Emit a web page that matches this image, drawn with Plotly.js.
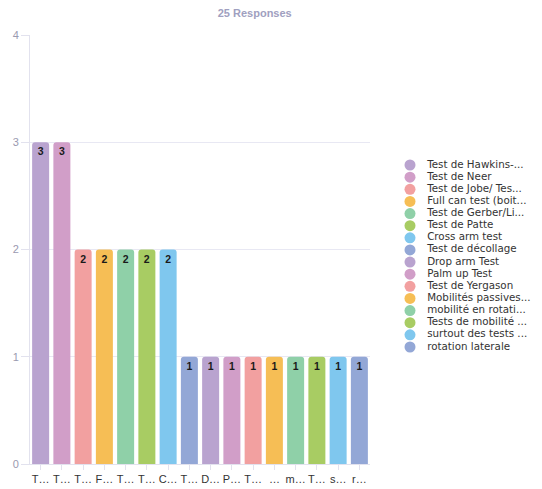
<!DOCTYPE html>
<html><head><meta charset="utf-8">
<script src="https://cdn.plot.ly/plotly-3.0.1.min.js"></script>
<style>html,body{margin:0;padding:0;background:#fff;}#chart{width:542px;height:489px;}</style>
</head><body><div id="chart"></div>
<script>
const categories = ["Test de Hawkins-...","Test de Neer","Test de Jobe/ Tes...","Full can test (boit...","Test de Gerber/Li...","Test de Patte","Cross arm test","Test de décollage","Drop arm Test","Palm up Test","Test de Yergason","Mobilités passives...","mobilité en rotati...","Tests de mobilité ...","surtout des tests ...","rotation laterale"];
const tickLabels = ["T…","T…","T…","F…","T…","T…","C…","T…","D…","P…","T…","…","m…","T…","s…","r…"];
const counts = [3,3,2,2,2,2,2,1,1,1,1,1,1,1,1,1];
const colors = ["#b9a3cf","#d19ec8","#f2a0a0","#f6be55","#8fd0a8","#a8cc63","#7fc7ee","#93a7d6","#b9a3cf","#d19ec8","#f2a0a0","#f6be55","#8fd0a8","#a8cc63","#7fc7ee","#93a7d6"];
const responsesTitle = "25 Responses";

const idx = categories.map((_, i) => i);
const FONT = 'Liberation Sans, Arial, sans-serif';
const LEGFONT = 'DejaVu Sans, Liberation Sans, sans-serif';
const traces = [
  {
    type: 'bar', x: idx, y: counts, text: counts.map(String),
    textposition: 'inside', insidetextanchor: 'end', textangle: 0,
    textfont: {family: FONT, size: 10.5, color: '#1a1a1a', weight: 'bold'},
    marker: {color: colors, cornerradius: 3}, showlegend: false, hoverinfo: 'none'
  },
  {
    type: 'scatter', mode: 'markers', xaxis: 'x2', yaxis: 'y2',
    x: idx.map(() => 0), y: idx, marker: {symbol: 'circle', size: 11, color: colors},
    showlegend: false, hoverinfo: 'none', cliponaxis: false
  },
  {
    type: 'scatter', mode: 'text', xaxis: 'x2', yaxis: 'y2',
    x: idx.map(() => 0.13), y: idx, text: categories, textposition: 'middle right',
    textfont: {family: LEGFONT, size: 10.3, color: '#333'},
    showlegend: false, hoverinfo: 'none', cliponaxis: false
  }
];

const layout = {
  width: 542, height: 489,
  margin: {l: 30, r: 0, t: 35, b: 25},
  paper_bgcolor: '#fff', plot_bgcolor: 'rgba(0,0,0,0)',
  font: {family: FONT, color: '#333'},
  title: {text: responsesTitle, x: 0.47, xanchor: 'center', y: 0.973, yanchor: 'middle',
    font: {size: 11, color: '#a0a0c0', weight: 'bold'}},
  bargap: 0.2,
  showlegend: false,
  xaxis: {domain: [0, 340/512], range: [-0.5, 15.5], tickmode: 'array', tickvals: idx, ticktext: tickLabels,
    tickangle: 0, showgrid: false, zeroline: false, showline: true, linecolor: '#e2e2ee', linewidth: 1,
    ticks: 'outside', ticklen: 5, tickcolor: '#e2e2ee', tickfont: {size: 11, color: '#333'}, fixedrange: true},
  yaxis: {range: [0, 4], tickvals: [0,1,2,3,4], showgrid: true, gridcolor: '#e8e8f3',
    zeroline: false, showline: true, linecolor: '#e2e2ee', ticks: 'outside', ticklen: 8, tickcolor: '#e2e2ee',
    tickfont: {size: 11, color: '#9a9ab0'}, fixedrange: true},
  xaxis2: {domain: [(410-30)/512, 1], range: [0, 1], visible: false, fixedrange: true, anchor: 'y2'},
  yaxis2: {domain: [(464-347)/429, (464-165)/429], range: [15, 0], visible: false, fixedrange: true, anchor: 'x2'}
};
Plotly.newPlot('chart', traces, layout, {displayModeBar: false, staticPlot: true});
</script></body></html>
